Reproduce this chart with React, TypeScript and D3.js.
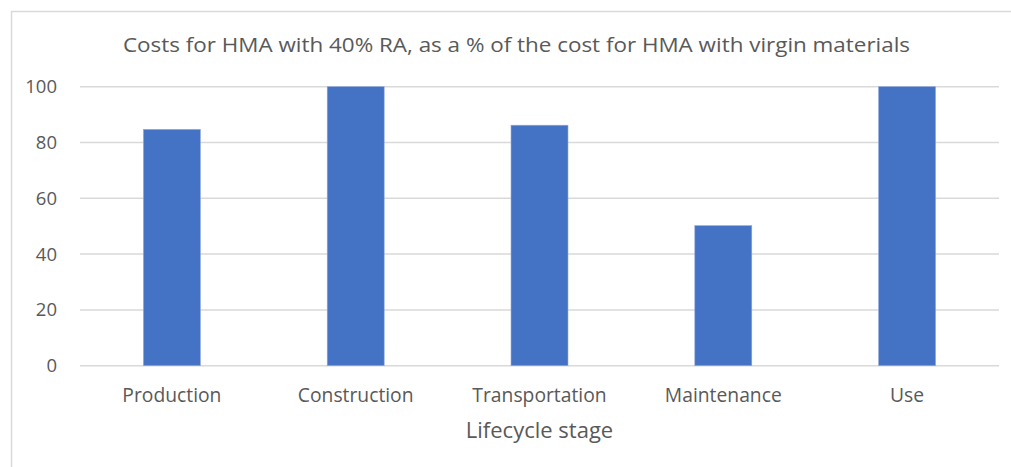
import React from "react";
import * as d3 from "d3";

const categories = ["Production", "Construction", "Transportation", "Maintenance", "Use"];
const values = [84.7, 100, 86.2, 50.2, 100];
const yTicks = [0, 20, 40, 60, 80, 100];
const title = "Costs for HMA with 40% RA, as a % of the cost for HMA with virgin materials";
const xTitle = "Lifecycle stage";

const W = 1011;
const H = 467;
const FONT = "'Open Sans', 'Liberation Sans', sans-serif";
const TXT = "#595959";

export default function App() {
  const x = d3
    .scaleBand<string>()
    .domain(categories)
    .range([80, 999])
    .paddingInner(0.69)
    .paddingOuter(0.345);
  const y = d3.scaleLinear().domain([0, 100]).range([365.7, 86.7]);

  return (
    <svg
      width={W}
      height={H}
      style={{ position: "absolute", left: 0, top: 0, background: "#fff" }}
      fontFamily={FONT}
    >
      <rect x={0} y={0} width={W} height={H} fill="#fff" />
      <path d={`M11.5,${H} V11.5 H${W}`} fill="none" stroke="#D9D9D9" strokeWidth={1.5} />
      <text
        x={516.5}
        y={52}
        textAnchor="middle"
        fontSize={20}
        fill={TXT}
        textLength={787}
        lengthAdjust="spacingAndGlyphs"
      >
        {title}
      </text>
      {yTicks.map((t) => (
        <g key={t}>
          <line x1={80} x2={999} y1={y(t)} y2={y(t)} stroke="#D9D9D9" strokeWidth={1.5} />
          <text x={57} y={y(t) + 6.5} textAnchor="end" fontSize={18.5} fill={TXT}>
            {t}
          </text>
        </g>
      ))}
      {categories.map((c, i) => (
        <rect
          key={c}
          x={x(c)}
          y={y(values[i])}
          width={x.bandwidth()}
          height={y(0) - y(values[i])}
          fill="#4472C4"
          stroke="#8FAADC"
          strokeWidth={0.6}
        />
      ))}
      {categories.map((c) => (
        <text
          key={c}
          x={(x(c) ?? 0) + x.bandwidth() / 2}
          y={401.5}
          textAnchor="middle"
          fontSize={19.3}
          fill={TXT}
        >
          {c}
        </text>
      ))}
      <text x={539.5} y={438} textAnchor="middle" fontSize={22} fill={TXT}>
        {xTitle}
      </text>
    </svg>
  );
}
